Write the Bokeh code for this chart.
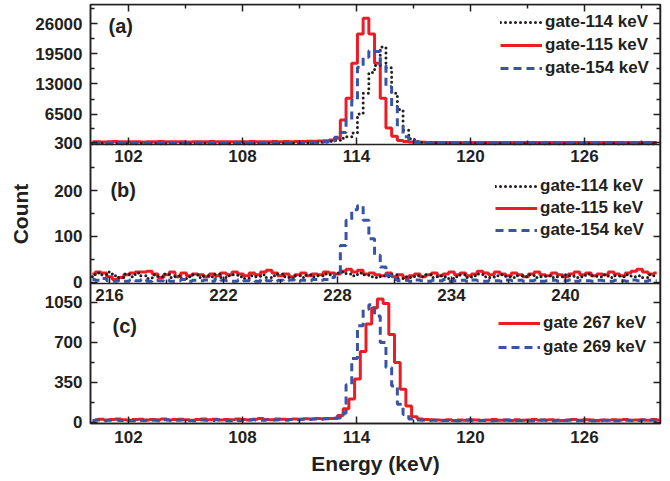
import numpy as np
from bokeh.plotting import figure
from bokeh.models import (Range1d, LinearAxis, FixedTicker, Legend, LegendItem,
                          Label, CustomJSTickFormatter)
from bokeh.embed import file_html
from bokeh.resources import INLINE

# ---------------- data ----------------
BIN_W = 0.3
# panel (a): gates 114 / 115 / 154 keV, energy 100-130 keV
A_X0 = 100.1
A_GATE114 = [120, 100, 140, 110, 130, 100, 120, 150, 110, 130,
             100, 140, 120, 110, 130, 150, 100, 120, 140, 110,
             130, 120, 100, 140, 110, 130, 150, 120, 110, 140,
             130, 150, 140, 170, 160, 200, 190, 240, 280, 330,
             420, 500, 650, 800, 1300, 1600, 2400, 6500, 11000, 15500,
             17000, 21000, 16500, 11000, 7500, 3000, 1200, 600, 400, 300,
             250, 220, 200, 180, 170, 160, 150, 140, 150, 130,
             140, 120, 130, 140, 120, 110, 130, 120, 140, 110,
             120, 130, 110, 120, 140, 130, 110, 120, 130, 110,
             120, 140, 120, 110, 130, 120, 110, 130, 120, 110]
A_GATE115 = [520, 540, 500, 530, 560, 510, 520, 550, 530, 500,
             540, 520, 560, 530, 510, 540, 520, 500, 550, 530,
             520, 560, 540, 510, 530, 550, 520, 540, 570, 530,
             550, 520, 560, 540, 580, 550, 600, 570, 620, 640,
             680, 750, 900, 1300, 5200, 9900, 17500, 23800, 27200, 23800,
             17500, 9900, 3500, 1700, 800, 600, 480, 420, 400, 380,
             370, 360, 380, 350, 370, 360, 340, 380, 350, 360,
             370, 350, 340, 360, 380, 350, 360, 340, 370, 350,
             360, 380, 350, 340, 360, 370, 350, 360, 340, 380,
             350, 360, 370, 340, 360, 350, 370, 360, 340, 350]
A_GATE154 = [230, 250, 220, 240, 230, 260, 220, 240, 250, 230,
             220, 240, 260, 230, 250, 220, 240, 230, 250, 260,
             230, 240, 220, 250, 230, 260, 240, 230, 250, 240,
             260, 250, 270, 260, 290, 280, 320, 340, 380, 420,
             470, 520, 700, 1500, 2500, 5300, 9500, 16600, 18800, 20200,
             20000, 17000, 12400, 8100, 3800, 1600, 800, 450, 330, 290,
             270, 260, 250, 240, 250, 230, 240, 250, 230, 240,
             250, 230, 240, 220, 250, 240, 230, 250, 240, 230,
             240, 250, 230, 240, 250, 230, 240, 220, 250, 240,
             230, 250, 240, 230, 240, 250, 230, 240, 250, 230]

# panel (b): same gates, energy 215-245 keV
B_X0 = 215.1
B_GATE114 = [12, 20, 16, 22, 14, 10, 18, 12, 20, 14,
             8, 16, 12, 18, 10, 14, 8, 12, 16, 10,
             14, 12, 18, 10, 14, 16, 12, 8, 14, 12,
             16, 10, 14, 18, 12, 8, 14, 10, 16, 12,
             14, 18, 16, 20, 22, 18, 14, 20, 16, 12,
             10, 14, 12, 16, 8, 12, 10, 14, 12, 16,
             10, 14, 12, 8, 12, 16, 10, 14, 18, 12,
             10, 14, 16, 12, 10, 14, 12, 16, 10, 12,
             14, 10, 12, 16, 14, 10, 12, 18, 14, 12,
             16, 10, 14, 12, 16, 12, 14, 10, 16, 12]
B_GATE115 = [18, 22, 20, 12, 6, 10, 16, 20, 22, 22,
             24, 18, 10, 16, 22, 12, 20, 14, 18, 16,
             12, 18, 14, 20, 16, 22, 18, 14, 20, 16,
             22, 26, 20, 14, 18, 12, 16, 20, 14, 18,
             16, 22, 20, 18, 24, 28, 22, 26, 18, 20,
             16, 14, 20, 12, 16, 10, 14, 18, 12, 16,
             20, 14, 18, 22, 16, 20, 14, 18, 24, 20,
             16, 22, 18, 14, 20, 16, 12, 18, 22, 16,
             14, 20, 16, 12, 18, 22, 16, 20, 14, 18,
             16, 22, 18, 14, 20, 24, 28, 22, 18, 20]
B_GATE154 = [6, 4, 8, 3, 2, 4, 2, 5, 3, 6,
             2, 4, 3, 5, 2, 3, 6, 2, 4, 3,
             5, 2, 8, 4, 3, 2, 5, 3, 4, 2,
             6, 3, 2, 4, 3, 5, 2, 4, 3, 6,
             4, 6, 10, 22, 80, 135, 158, 167, 135, 95,
             59, 33, 15, 6, 3, 4, 2, 5, 3, 2,
             4, 3, 6, 2, 3, 4, 2, 5, 3, 2,
             4, 3, 2, 5, 3, 4, 2, 3, 5, 2,
             3, 4, 2, 3, 5, 2, 4, 3, 2, 4,
             3, 2, 4, 3, 2, 5, 3, 2, 4, 3]

# panel (c): gates 267 / 269 keV, energy 100-130 keV
C_X0_267 = 100.25
C_X0_269 = 100.1
C_GATE267 = [24, 28, 22, 26, 30, 24, 20, 26, 28, 22,
             26, 24, 30, 22, 26, 28, 24, 20, 26, 30,
             24, 28, 22, 26, 24, 30, 26, 22, 28, 34,
             26, 24, 30, 28, 26, 30, 28, 32, 30, 34,
             32, 35, 35, 60, 120, 205, 380, 620, 860, 1000,
             1080, 1040, 770, 525, 290, 145, 50, 30, 26, 24,
             22, 20, 24, 18, 22, 20, 24, 22, 18, 22,
             26, 20, 22, 18, 24, 20, 22, 26, 20, 22,
             24, 20, 18, 22, 26, 20, 24, 22, 18, 22,
             20, 24, 22, 26, 20, 22, 24, 20, 26, 22]
C_GATE269 = [18, 22, 16, 20, 24, 18, 22, 16, 20, 18,
             22, 20, 16, 24, 18, 20, 22, 18, 16, 22,
             20, 18, 24, 20, 16, 22, 18, 20, 24, 22,
             20, 26, 22, 24, 20, 26, 24, 28, 26, 30,
             28, 32, 36, 40, 80, 330, 560, 846, 990, 1030,
             930, 700, 481, 320, 160, 70, 30, 22, 20, 18,
             20, 16, 18, 20, 16, 18, 22, 16, 18, 20,
             16, 18, 20, 22, 16, 18, 20, 16, 18, 22,
             18, 16, 20, 18, 22, 16, 18, 20, 16, 18,
             20, 22, 16, 18, 20, 16, 18, 22, 20, 16]

X_TICKS_AC = [102, 108, 114, 120, 126]
X_MINOR_AC = [105, 111, 117, 123, 129]
X_TICKS_B = [216, 222, 228, 234, 240]
X_MINOR_B = [219, 225, 231, 237, 243]
Y_TICKS_A = [300, 6500, 13000, 19500, 26000]
Y_MINOR_A = [3400, 9750, 16250, 22750, 29250]
Y_TICKS_B = [0, 100, 200]
Y_MINOR_B = [50, 150, 250]
Y_TICKS_C = [0, 350, 700, 1050]
Y_MINOR_C = [175, 525, 875]

LEG_A = ["gate-114 keV", "gate-115 keV", "gate-154 keV"]
LEG_C = ["gate 267 keV", "gate 269 keV"]

# ---------------- styling ----------------
INK = "#231f20"
RED = "#ed1c24"
BLUE = "#3a54a4"
FONT = "Liberation Sans"

# vertical ranges: the three panels share one frame, each on its own band
RANGE_A = (-60315, 30168)
RANGE_B = (-308.2, 605.7)
RANGE_C = (-9, 3655)


def centers(x0, n):
    return x0 + BIN_W * np.arange(n)


def to_c(v, rng):
    """Position of value v of range rng expressed in the main (panel c) range."""
    return RANGE_C[0] + (v - rng[0]) * (RANGE_C[1] - RANGE_C[0]) / (rng[1] - rng[0])


p = figure(width=670, height=481, output_backend="svg", toolbar_location=None,
           x_range=Range1d(100, 130), y_range=Range1d(*RANGE_C),
           x_axis_type=None, y_axis_type=None,
           min_border_left=90, min_border_right=10, min_border_top=4,
           min_border_bottom=58)
p.extra_x_ranges = {"b": Range1d(215, 245)}
p.extra_y_ranges = {"a": Range1d(*RANGE_A), "b": Range1d(*RANGE_B)}
p.outline_line_color = INK
p.outline_line_width = 1.5
p.background_fill_color = "white"
p.border_fill_color = "white"


def style_axis(ax, labels=True):
    ax.axis_line_color = INK
    ax.axis_line_width = 1.5
    ax.major_tick_in = 7
    ax.major_tick_out = 0
    ax.minor_tick_in = 4
    ax.minor_tick_out = 0
    ax.major_tick_line_color = INK
    ax.minor_tick_line_color = INK
    ax.major_tick_line_width = 1.5
    ax.minor_tick_line_width = 1.5
    ax.major_label_text_font = FONT
    ax.major_label_text_font_style = "bold"
    ax.major_label_text_font_size = "17px"
    ax.major_label_text_color = INK
    ax.axis_label_text_font = FONT
    ax.axis_label_text_font_style = "bold"
    ax.axis_label_text_font_size = "21px"
    ax.axis_label_text_color = INK
    if not labels:
        ax.formatter = CustomJSTickFormatter(code="return ''")
        ax.major_label_standoff = 0


# left axis: one axis carries the ticks of all three panels
left_major = ([to_c(v, RANGE_A) for v in Y_TICKS_A] +
              [to_c(v, RANGE_B) for v in Y_TICKS_B] + list(Y_TICKS_C))
left_minor = ([to_c(v, RANGE_A) for v in Y_MINOR_A] +
              [to_c(v, RANGE_B) for v in Y_MINOR_B] + list(Y_MINOR_C))
left_labels = {}
for v in Y_TICKS_A:
    left_labels[to_c(v, RANGE_A)] = str(v)
for v in Y_TICKS_B:
    left_labels[to_c(v, RANGE_B)] = str(v)
for v in Y_TICKS_C:
    left_labels[v] = str(v)

ax = LinearAxis(ticker=FixedTicker(ticks=left_major, minor_ticks=left_minor),
                axis_label="Count")
style_axis(ax)
ax.major_label_overrides = left_labels
ax.major_label_standoff = 8
ax.axis_label_standoff = 0
p.add_layout(ax, "left")

# right axes (ticks only)
for rn, tk, mn in (("default", Y_TICKS_C, Y_MINOR_C), ("a", Y_TICKS_A, Y_MINOR_A),
                   ("b", Y_TICKS_B, Y_MINOR_B)):
    ax = LinearAxis(y_range_name=rn, fixed_location=130,
                    ticker=FixedTicker(ticks=tk, minor_ticks=mn))
    style_axis(ax, labels=False)
    p.add_layout(ax, "right")

# top axis (ticks only)
ax = LinearAxis(y_range_name="a", fixed_location=RANGE_A[1],
                ticker=FixedTicker(ticks=X_TICKS_AC, minor_ticks=X_MINOR_AC))
style_axis(ax, labels=False)
p.add_layout(ax, "above")

# bottom axes
ax = LinearAxis(ticker=FixedTicker(ticks=X_TICKS_AC, minor_ticks=X_MINOR_AC),
                axis_label="Energy (keV)")
style_axis(ax)
ax.major_label_standoff = 7
ax.axis_label_standoff = 6
p.add_layout(ax, "below")

ax = LinearAxis(y_range_name="a", fixed_location=0,
                ticker=FixedTicker(ticks=X_TICKS_AC, minor_ticks=X_MINOR_AC))
style_axis(ax)
ax.major_label_standoff = 6
p.add_layout(ax, "below")

ax = LinearAxis(x_range_name="b", y_range_name="b", fixed_location=-2.2,
                ticker=FixedTicker(ticks=X_TICKS_B, minor_ticks=X_MINOR_B))
style_axis(ax)
ax.major_label_standoff = 6
p.add_layout(ax, "below")

DOT = dict(line_color=INK, line_width=3, line_dash="0 5", line_cap="round")
SOLID = dict(line_color=RED, line_width=3)
DASH = dict(line_color=BLUE, line_width=3, line_dash="8 5")

# panel a
ra115 = p.step(centers(A_X0, len(A_GATE115)), A_GATE115, mode="center", y_range_name="a", **SOLID)
ra114 = p.step(centers(A_X0, len(A_GATE114)), A_GATE114, mode="center", y_range_name="a", **DOT)
ra154 = p.step(centers(A_X0, len(A_GATE154)), A_GATE154, mode="center", y_range_name="a", **DASH)
# panel b
rb115 = p.step(centers(B_X0, len(B_GATE115)), B_GATE115, mode="center",
               x_range_name="b", y_range_name="b", **SOLID)
rb114 = p.step(centers(B_X0, len(B_GATE114)), B_GATE114, mode="center",
               x_range_name="b", y_range_name="b", **DOT)
rb154 = p.step(centers(B_X0, len(B_GATE154)), B_GATE154, mode="center",
               x_range_name="b", y_range_name="b", **DASH)
# panel c
rc267 = p.step(centers(C_X0_267, len(C_GATE267)), C_GATE267, mode="center", **SOLID)
rc269 = p.step(centers(C_X0_269, len(C_GATE269)), C_GATE269, mode="center", **DASH)


def add_legend(pairs, loc, spacing):
    lg = Legend(items=[LegendItem(label=l, renderers=[r]) for l, r in pairs],
                location=loc, orientation="vertical", padding=0, margin=0,
                spacing=spacing, glyph_width=42, glyph_height=20, label_height=20,
                label_standoff=3, label_text_font=FONT, label_text_font_size="17px",
                label_text_font_style="bold", label_text_color=INK,
                border_line_alpha=0, background_fill_alpha=0)
    p.add_layout(lg)


add_legend(zip(LEG_A, [ra114, ra115, ra154]), (410, 345), 3)
add_legend(zip(LEG_A, [rb114, rb115, rb154]), (405, 183), 2)
add_legend(zip(LEG_C, [rc267, rc269]), (408, 66), 4)

for txt, x, y, xr, yr in (("(a)", 100.95, 25600, "default", "a"),
                          ("(b)", 216.05, 202, "b", "b"),
                          ("(c)", 101.16, 846, "default", "default")):
    p.add_layout(Label(x=x, y=y, x_range_name=xr, y_range_name=yr, text=txt,
                       text_font=FONT, text_font_style="bold", text_font_size="20px",
                       text_color=INK, text_baseline="middle"))

open("out.html", "w").write(file_html(p, INLINE))
